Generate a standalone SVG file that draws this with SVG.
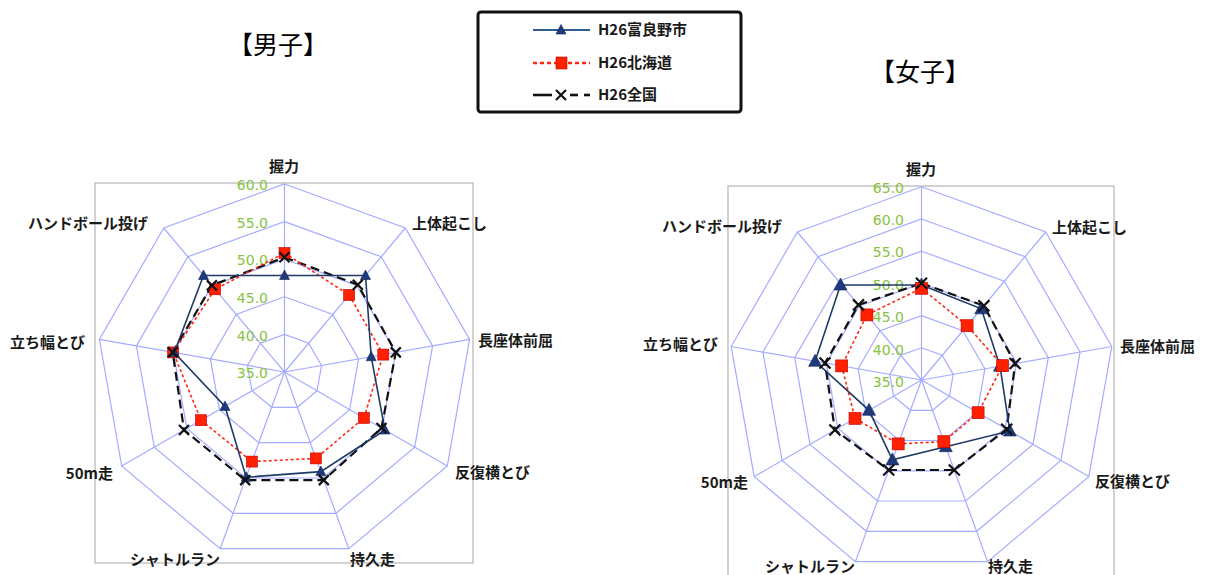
<svg xmlns="http://www.w3.org/2000/svg" xmlns:xlink="http://www.w3.org/1999/xlink" width="1212" height="575" viewBox="0 0 1212 575">
<style>
.bg{fill:#fff}
.plot{fill:#fff;stroke:#a6a6a6;stroke-width:1}
.ring{fill:none;stroke:#a4acff;stroke-width:1.2}
.spoke{stroke:#a4acff;stroke-width:1.2}
.val{font-family:"DejaVu Sans",sans-serif;font-size:14px;fill:#86c440;text-anchor:end}
.ax{font-family:"Noto Sans CJK JP",sans-serif;font-size:15px;font-weight:bold;fill:#1a1a1a}
.ttl{font-family:"Noto Sans CJK JP",sans-serif;font-size:25px;fill:#000}
.lg{font-family:"Noto Sans CJK JP",sans-serif;font-size:15px;font-weight:bold;fill:#1a1a1a}
.sBlue{fill:none;stroke:#1f3a66;stroke-width:1.6}
.sRed{fill:none;stroke:#ff2a14;stroke-width:1.6;stroke-dasharray:3 2.5}
.sBlack{fill:none;stroke:#111;stroke-width:2.2;stroke-dasharray:9 5}
.mTri{fill:#1f3a7a;stroke:#10245a;stroke-width:0.6}
.mSq{fill:#ff2000;stroke:#c00000;stroke-width:0.6}
.mX{fill:none;stroke:#111;stroke-width:2.2}
</style>
<defs>
<path id="triL" d="M0,-5.5 L5,4 L-5,4 Z"/>
<path id="triR" d="M0,-7 L6.5,5 L-6.5,5 Z"/>
<rect id="sqL" x="-5.5" y="-5.5" width="11" height="11"/>
<rect id="sqR" x="-6" y="-6" width="12" height="12"/>
<path id="xL" d="M-5,-5 L5,5 M-5,5 L5,-5"/>
<path id="xR" d="M-5.5,-5.5 L5.5,5.5 M-5.5,5.5 L5.5,-5.5"/>
</defs>
<rect class="bg" x="0" y="0" width="1212" height="575"/>

<g id="title-male"><text class="ttl" x="278" y="54" text-anchor="middle">【男子】</text></g>
<g id="title-female"><text class="ttl" x="920" y="81" text-anchor="middle">【女子】</text></g>

<g id="legend">
<rect x="478" y="12" width="263" height="100" rx="3" fill="#fff" stroke="#111" stroke-width="3"/>
<line x1="533" y1="30" x2="590" y2="30" stroke="#2e5e8e" stroke-width="2.2"/>
<use xlink:href="#triL" x="561" y="30" class="mTri"/>
<text class="lg" x="598" y="35">H26富良野市</text>
<line x1="533" y1="63" x2="590" y2="63" stroke="#ff2a14" stroke-width="2.6" stroke-dasharray="4 3"/>
<rect x="556" y="57" width="11" height="12" class="mSq"/>
<text class="lg" x="598" y="68">H26北海道</text>
<line x1="533" y1="95" x2="552" y2="95" stroke="#111" stroke-width="2.6"/>
<use xlink:href="#xL" x="561" y="95" class="mX"/>
<line x1="570" y1="95" x2="578" y2="95" stroke="#111" stroke-width="2.6"/>
<line x1="584" y1="95" x2="590" y2="95" stroke="#111" stroke-width="2.6"/>
<text class="lg" x="598" y="100">H26全国</text>
</g>

<!-- LEFT CHART (male) -->
<g id="chart-male">
<rect class="plot" x="95" y="183" width="378" height="380"/>
<g id="grid-male">
<polygon class="ring" points="284.5,184 405.3,228 469.6,339.4 447.3,466 348.8,548.7 220.2,548.7 121.7,466 99.4,339.4 163.7,228"/>
<polygon class="ring" points="284.5,221.6 381.2,256.8 432.6,345.9 414.7,447.2 335.9,513.3 233.1,513.3 154.3,447.2 136.4,345.9 187.8,256.8"/>
<polygon class="ring" points="284.5,259.2 357,285.6 395.6,352.4 382.2,428.4 323.1,478 245.9,478 186.8,428.4 173.4,352.4 212,285.6"/>
<polygon class="ring" points="284.5,296.8 332.8,314.4 358.6,358.9 349.6,409.6 310.2,442.7 258.8,442.7 219.4,409.6 210.4,358.9 236.2,314.4"/>
<polygon class="ring" points="284.5,334.4 308.7,343.2 321.5,365.5 317.1,390.8 297.4,407.3 271.6,407.3 251.9,390.8 247.5,365.5 260.3,343.2"/>
<line class="spoke" x1="284.5" y1="372" x2="284.5" y2="184" stroke-width="2"/>
<line class="spoke" x1="284.5" y1="372" x2="405.3" y2="228"/>
<line class="spoke" x1="284.5" y1="372" x2="469.6" y2="339.4"/>
<line class="spoke" x1="284.5" y1="372" x2="447.3" y2="466"/>
<line class="spoke" x1="284.5" y1="372" x2="348.8" y2="548.7"/>
<line class="spoke" x1="284.5" y1="372" x2="220.2" y2="548.7"/>
<line class="spoke" x1="284.5" y1="372" x2="121.7" y2="466"/>
<line class="spoke" x1="284.5" y1="372" x2="99.4" y2="339.4"/>
<line class="spoke" x1="284.5" y1="372" x2="163.7" y2="228"/>
</g>
<g id="scale-male">
<text class="val" x="268" y="190">60.0</text>
<text class="val" x="268" y="228">55.0</text>
<text class="val" x="268" y="265">50.0</text>
<text class="val" x="268" y="303">45.0</text>
<text class="val" x="268" y="341">40.0</text>
<text class="val" x="268" y="378">35.0</text>
</g>
<g id="labels-male">
<text class="ax" x="284" y="172" text-anchor="middle">握力</text>
<text class="ax" x="412" y="229">上体起こし</text>
<text class="ax" x="478" y="346">長座体前屈</text>
<text class="ax" x="455" y="478">反復横とび</text>
<text class="ax" x="350" y="565">持久走</text>
<text class="ax" x="130" y="565">シャトルラン</text>
<text class="ax" x="113" y="479" text-anchor="end">50m走</text>
<text class="ax" x="10" y="348">立ち幅とび</text>
<text class="ax" x="28" y="229">ハンドボール投げ</text>
</g>
<g id="series-male-black">
<polygon class="sBlack" points="284.5,257.3 357.8,284.7 395.8,352.4 381.5,428 323.8,480.1 245.2,480.1 184,430 172.7,352.3 211.9,285.4"/>
</g>
<g id="series-male-red">
<polygon class="sRed" points="284.5,253 349.1,295 383.3,354.6 363.9,417.9 315.9,458.4 251.9,461.6 201,420.2 173.2,352.4 215.1,289.3"/>
<g class="mSq">
<use xlink:href="#sqL" x="284.5" y="253"/><use xlink:href="#sqL" x="349.1" y="295"/><use xlink:href="#sqL" x="383.3" y="354.6"/>
<use xlink:href="#sqL" x="363.9" y="417.9"/><use xlink:href="#sqL" x="315.9" y="458.4"/><use xlink:href="#sqL" x="251.9" y="461.6"/>
<use xlink:href="#sqL" x="201" y="420.2"/><use xlink:href="#sqL" x="173.2" y="352.4"/><use xlink:href="#sqL" x="215.1" y="289.3"/>
</g>
</g>
<g id="series-male-blue">
<polygon class="sBlue" points="284.5,275.5 365.5,275.5 371.2,356.7 385,430 320.8,471.6 246.2,477.2 225,406.4 174.2,352.6 203.5,275.5"/>
<g class="mTri">
<use xlink:href="#triL" x="284.5" y="275.5"/><use xlink:href="#triL" x="365.5" y="275.5"/><use xlink:href="#triL" x="371.2" y="356.7"/>
<use xlink:href="#triL" x="385" y="430"/><use xlink:href="#triL" x="320.8" y="471.6"/><use xlink:href="#triL" x="246.2" y="477.2"/>
<use xlink:href="#triL" x="225" y="406.4"/><use xlink:href="#triL" x="174.2" y="352.6"/><use xlink:href="#triL" x="203.5" y="275.5"/>
</g>
</g>
<g class="mX" id="markers-male-black">
<use xlink:href="#xL" x="284.5" y="257.3"/><use xlink:href="#xL" x="357.8" y="284.7"/><use xlink:href="#xL" x="395.8" y="352.4"/>
<use xlink:href="#xL" x="381.5" y="428"/><use xlink:href="#xL" x="323.8" y="480.1"/><use xlink:href="#xL" x="245.2" y="480.1"/>
<use xlink:href="#xL" x="184" y="430"/><use xlink:href="#xL" x="172.7" y="352.3"/><use xlink:href="#xL" x="211.9" y="285.4"/>
</g>
</g>

<!-- RIGHT CHART (female) -->
<g id="chart-female">
<rect class="plot" x="728" y="186" width="386" height="400"/>
<g id="grid-female">
<polygon class="ring" points="921.5,186.8 1045.7,232 1111.8,346.5 1088.8,476.6 987.6,561.6 855.4,561.6 754.2,476.6 731.2,346.5 797.3,232"/>
<polygon class="ring" points="921.5,219 1025,256.7 1080.1,352 1060.9,460.5 976.6,531.3 866.4,531.3 782.1,460.5 762.9,352 818,256.7"/>
<polygon class="ring" points="921.5,251.2 1004.3,281.3 1048.3,357.6 1033,444.4 965.5,501 877.5,501 810,444.4 794.7,357.6 838.7,281.3"/>
<polygon class="ring" points="921.5,283.4 983.6,306 1016.6,363.2 1005.2,428.3 954.5,470.8 888.5,470.8 837.8,428.3 826.4,363.2 859.4,306"/>
<polygon class="ring" points="921.5,315.6 962.9,330.7 984.9,368.8 977.3,412.2 943.5,440.5 899.5,440.5 865.7,412.2 858.1,368.8 880.1,330.7"/>
<polygon class="ring" points="921.5,347.8 942.2,355.3 953.2,374.4 949.4,396.1 932.5,410.3 910.5,410.3 893.6,396.1 889.8,374.4 900.8,355.3"/>
<line class="spoke" x1="921.5" y1="380" x2="921.5" y2="186.8" stroke-width="2"/>
<line class="spoke" x1="921.5" y1="380" x2="1045.7" y2="232"/>
<line class="spoke" x1="921.5" y1="380" x2="1111.8" y2="346.5"/>
<line class="spoke" x1="921.5" y1="380" x2="1088.8" y2="476.6"/>
<line class="spoke" x1="921.5" y1="380" x2="987.6" y2="561.6"/>
<line class="spoke" x1="921.5" y1="380" x2="855.4" y2="561.6"/>
<line class="spoke" x1="921.5" y1="380" x2="754.2" y2="476.6"/>
<line class="spoke" x1="921.5" y1="380" x2="731.2" y2="346.5"/>
<line class="spoke" x1="921.5" y1="380" x2="797.3" y2="232"/>
</g>
<g id="scale-female">
<text class="val" x="904" y="193">65.0</text>
<text class="val" x="904" y="225">60.0</text>
<text class="val" x="904" y="257">55.0</text>
<text class="val" x="904" y="290">50.0</text>
<text class="val" x="904" y="322">45.0</text>
<text class="val" x="904" y="355">40.0</text>
<text class="val" x="904" y="387">35.0</text>
</g>
<g id="labels-female">
<text class="ax" x="921" y="175" text-anchor="middle">握力</text>
<text class="ax" x="1052" y="233">上体起こし</text>
<text class="ax" x="1120" y="352">長座体前屈</text>
<text class="ax" x="1095" y="487">反復横とび</text>
<text class="ax" x="988" y="572">持久走</text>
<text class="ax" x="765" y="572">シャトルラン</text>
<text class="ax" x="748" y="488" text-anchor="end">50m走</text>
<text class="ax" x="643" y="350">立ち幅とび</text>
<text class="ax" x="662" y="232">ハンドボール投げ</text>
</g>
<g id="series-female-black">
<polygon class="sBlack" points="921.5,283.3 983.9,305.7 1015.1,363.5 1006.7,429.2 954.3,470 888.7,470 834.9,430 825,363 858.5,304.9"/>
</g>
<g id="series-female-red">
<polygon class="sRed" points="921.5,288.3 967.1,325.7 1002.6,365.7 978.1,412.7 943.9,441.6 898.2,443.9 855,418.4 841.7,365.9 866.9,314.9"/>
</g>
<g id="series-female-blue">
<polygon class="sBlue" points="921.5,285 981.3,308.8 1000,366.2 1009.8,431 945.8,446.7 892.4,459.9 869,410.3 815.1,361.3 840.5,285"/>
<g class="mTri">
<use xlink:href="#triR" x="921.5" y="285"/><use xlink:href="#triR" x="981.3" y="308.8"/><use xlink:href="#triR" x="1000" y="366.2"/>
<use xlink:href="#triR" x="1009.8" y="431"/><use xlink:href="#triR" x="945.8" y="446.7"/><use xlink:href="#triR" x="892.4" y="459.9"/>
<use xlink:href="#triR" x="869" y="410.3"/><use xlink:href="#triR" x="815.1" y="361.3"/><use xlink:href="#triR" x="840.5" y="285"/>
</g>
</g>
<g class="mSq" id="markers-female-red">
<use xlink:href="#sqR" x="921.5" y="288.3"/><use xlink:href="#sqR" x="967.1" y="325.7"/><use xlink:href="#sqR" x="1002.6" y="365.7"/>
<use xlink:href="#sqR" x="978.1" y="412.7"/><use xlink:href="#sqR" x="943.9" y="441.6"/><use xlink:href="#sqR" x="898.2" y="443.9"/>
<use xlink:href="#sqR" x="855" y="418.4"/><use xlink:href="#sqR" x="841.7" y="365.9"/><use xlink:href="#sqR" x="866.9" y="314.9"/>
</g>
<g class="mX" id="markers-female-black">
<use xlink:href="#xR" x="921.5" y="283.3"/><use xlink:href="#xR" x="983.9" y="305.7"/><use xlink:href="#xR" x="1015.1" y="363.5"/>
<use xlink:href="#xR" x="1006.7" y="429.2"/><use xlink:href="#xR" x="954.3" y="470"/><use xlink:href="#xR" x="888.7" y="470"/>
<use xlink:href="#xR" x="834.9" y="430"/><use xlink:href="#xR" x="825" y="363"/><use xlink:href="#xR" x="858.5" y="304.9"/>
</g>
</g>
</svg>
